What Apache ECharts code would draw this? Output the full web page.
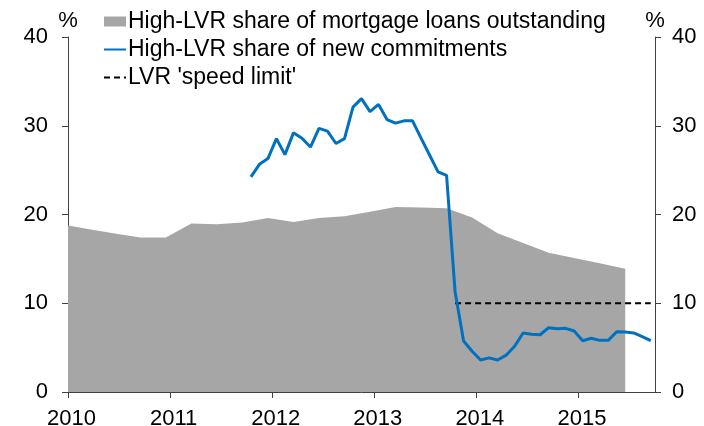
<!DOCTYPE html>
<html>
<head>
<meta charset="utf-8">
<script src="https://cdn.jsdelivr.net/npm/echarts@6/dist/echarts.min.js"></script>
<style>
  html, body { margin: 0; padding: 0; background: #fff; }
  #chart { width: 704px; height: 426px; }
</style>
</head>
<body>
<div id="chart"></div>
<script>
// x axis labels (one tick per January)
var yearLabels = ['2010', '2011', '2012', '2013', '2014', '2015']

// high-LVR share of loans outstanding, quarterly
var outstandingDates = [
  '2009-12', '2010-03', '2010-06', '2010-09', '2010-12',
  '2011-03', '2011-06', '2011-09', '2011-12',
  '2012-03', '2012-06', '2012-09', '2012-12',
  '2013-03', '2013-06', '2013-09', '2013-12',
  '2014-03', '2014-06', '2014-09', '2014-12',
  '2015-03', '2015-06'
]
var outstandingValues = [
  18.85, 18.35, 17.85, 17.4, 17.4,
  19.0, 18.9, 19.1, 19.6,
  19.15, 19.6, 19.8, 20.3,
  20.85, 20.8, 20.7, 19.65,
  17.9, 16.8, 15.7, 15.1,
  14.5, 13.9
]

// high-LVR share of new commitments, monthly from Oct 2011
var commitmentStart = '2011-10'
var commitmentValues = [
  24.25, 25.65, 26.3,
  28.55, 26.75, 29.2, 28.6, 27.6, 29.7, 29.4, 28.0, 28.55, 32.1, 33.05, 31.6,
  32.4, 30.7, 30.3, 30.55, 30.55, 28.6, 26.7, 24.8, 24.4, 11.3, 5.75, 4.6,
  3.6, 3.85, 3.6, 4.15, 5.15, 6.65, 6.5, 6.45, 7.25, 7.13, 7.17, 6.87,
  5.78, 6.05, 5.82, 5.82, 6.79, 6.76, 6.65, 6.23, 5.78
]

// LVR 'speed limit'
var limitDates = ['2013-10', '2015-09']
var limitValues = [10, 10]

var names = [
  'High-LVR share of mortgage loans outstanding',
  'High-LVR share of new commitments',
  "LVR 'speed limit'"
]

var font = 'Liberation Sans, Arial, sans-serif'

// months since Jan 2010, placed mid-month
function monthPos(s) {
  var p = s.split('-')
  return (parseInt(p[0]) - 2010) * 12 + parseInt(p[1]) - 1 + 0.5
}
function addMonths(s, n) {
  var p = s.split('-')
  var m = parseInt(p[0]) * 12 + parseInt(p[1]) - 1 + n
  var mm = m % 12 + 1
  return Math.floor(m / 12) + '-' + (mm < 10 ? '0' + mm : mm)
}

var outstandingData = outstandingDates.map(function (d, i) {
  return [monthPos(d), outstandingValues[i]]
})
var commitmentData = commitmentValues.map(function (v, i) {
  return [monthPos(addMonths(commitmentStart, i)), v]
})
var limitData = limitDates.map(function (d, i) {
  return [monthPos(d), limitValues[i]]
})

var axisColor = '#404040'

function yAxisOpt(pos, margin) {
  return {
    type: 'value',
    position: pos,
    min: 0,
    max: 40,
    interval: 10,
    name: '%',
    nameLocation: 'end',
    nameGap: 5,
    nameTextStyle: { color: '#000', fontSize: 22, fontFamily: font },
    axisLine: { show: true, lineStyle: { color: axisColor, width: 1 } },
    axisTick: { show: true, length: 6, lineStyle: { color: axisColor } },
    axisLabel: { color: '#000', fontSize: 22, fontFamily: font, margin: margin },
    splitLine: { show: false }
  }
}

var chart = echarts.init(document.getElementById('chart'), null, { renderer: 'canvas' })
chart.setOption({
  animation: false,
  backgroundColor: '#fff',
  grid: { left: 68, right: 49, top: 37, bottom: 34, outerBoundsMode: 'none' },
  legend: {
    orient: 'vertical',
    left: 103,
    top: 10,
    padding: 0,
    itemGap: 5,
    itemWidth: 22,
    itemHeight: 10,
    textStyle: { color: '#000', fontSize: 23, fontFamily: font, padding: [0, 0, 0, -3] },
    data: [
      { name: names[0], icon: 'rect' },
      { name: names[1], itemStyle: { opacity: 0 } },
      { name: names[2], itemStyle: { opacity: 0 } }
    ]
  },
  xAxis: {
    type: 'value',
    min: 0,
    max: 69,
    interval: 12,
    axisLine: { show: true, onZero: false, lineStyle: { color: axisColor, width: 1 } },
    axisTick: { show: true, length: 6, lineStyle: { color: axisColor } },
    axisLabel: {
      color: '#000',
      fontSize: 22,
      fontFamily: font,
      margin: 16,
      padding: [0, 0, 0, 7],
      showMaxLabel: false,
      formatter: function (v) {
        return v % 12 === 0 ? yearLabels[v / 12] : ''
      }
    },
    splitLine: { show: false }
  },
  yAxis: [yAxisOpt('left', 20), yAxisOpt('right', 17)],
  series: [
    {
      name: names[0],
      type: 'line',
      data: outstandingData,
      symbol: 'none',
      color: '#a6a6a6',
      lineStyle: { width: 0 },
      areaStyle: { color: '#a6a6a6', opacity: 1 },
      clip: true,
      z: 1
    },
    {
      name: names[1],
      type: 'line',
      data: commitmentData,
      symbol: 'none',
      color: '#0070c0',
      lineStyle: { width: 3, color: '#0070c0' },
      z: 3
    },
    {
      name: names[2],
      type: 'line',
      data: limitData,
      symbol: 'none',
      color: '#000',
      lineStyle: { width: 2, color: '#000', type: [6, 4] },
      z: 2
    }
  ]
})
</script>
</body>
</html>
